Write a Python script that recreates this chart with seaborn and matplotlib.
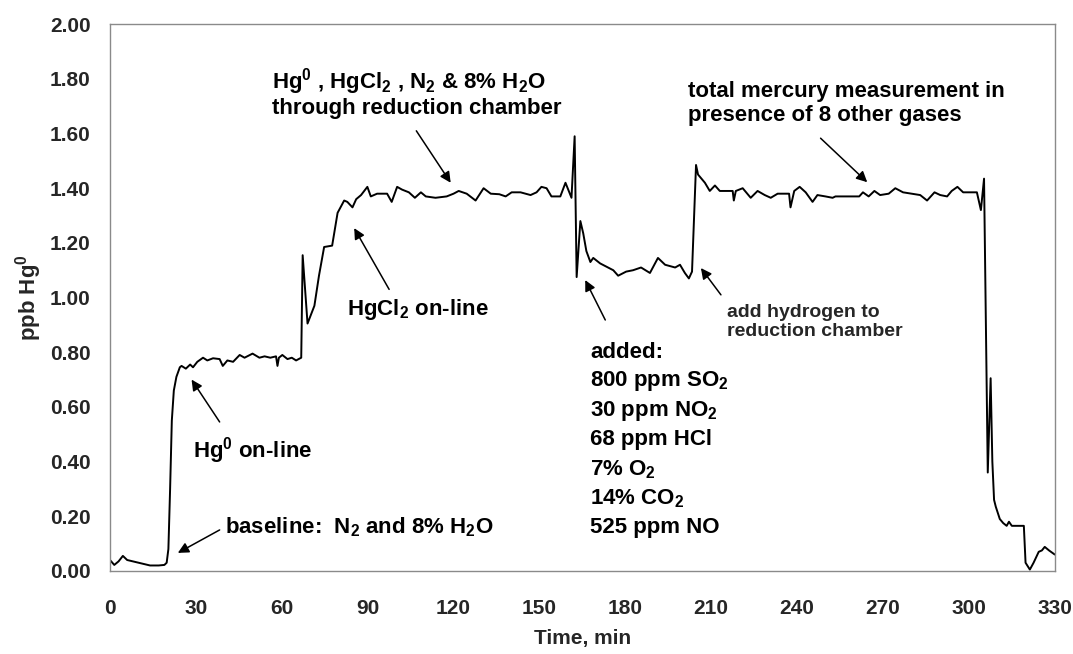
import matplotlib
matplotlib.use("Agg")
import matplotlib.pyplot as plt
import seaborn as sns
import pandas as pd

# Analyzer trace: elapsed time (min) and elemental mercury reading (ppb Hg0)
time_min = [
    0, 1.5, 3, 4.5, 6, 8, 10, 12, 14, 17,
    19, 19.8, 20.4, 21, 21.6, 22.3, 23.2, 24.4, 25, 26.5,
    28, 29, 30.5, 32.5, 34, 36, 38.3, 39.4, 41, 43,
    45.3, 47, 49.8, 52.2, 54, 56, 58, 58.5, 59, 60.2,
    62, 63.5, 65, 66.8, 67.3, 69, 71.4, 73, 74.8, 77.6,
    79.5, 81.8, 82.9, 84.7, 86, 87.7, 89.9, 91.1, 93.3, 96.8,
    98.4, 100.3, 102, 104.4, 106.5, 108.6, 110.3, 113.7, 117.6, 120,
    121.8, 124.6, 127.7, 130.5, 133, 136, 138.2, 140.3, 143.4, 146.9,
    149, 150.7, 152.5, 154.2, 157.3, 159.1, 161.2, 162.3, 163.0, 164.3,
    165.3, 166.4, 167.8, 168.8, 171.2, 174, 175.8, 177.5, 180.3, 182.7,
    185.5, 188.6, 191.4, 193.9, 197.4, 199.1, 200.8, 202.2, 203.3, 204.7,
    205.4, 207.8, 209.5, 211.3, 213, 217.5, 217.9, 218.6, 221, 223.8,
    226.2, 228.7, 230.8, 233.2, 237.2, 237.7, 239, 240.9, 243, 245.4,
    247.1, 249.9, 252.4, 253.4, 261.7, 263, 265, 267, 269, 272,
    274.3, 277, 280, 283, 285.4, 288, 290, 292.4, 294, 296,
    298, 302.8, 304.2, 305.3, 306.6, 307.6, 308.2, 308.8, 309.4, 310.8,
    312, 313.2, 314, 315, 319.2, 319.8, 321.3, 322.6, 324.4, 325.5,
    326.5, 328, 330,
]
ppb_hg0 = [
    0.040, 0.022, 0.035, 0.055, 0.040, 0.035, 0.030, 0.025, 0.020, 0.020,
    0.022, 0.030, 0.080, 0.300, 0.550, 0.660, 0.710, 0.745, 0.750, 0.740,
    0.755, 0.745, 0.765, 0.780, 0.770, 0.778, 0.775, 0.750, 0.770, 0.765,
    0.790, 0.780, 0.795, 0.780, 0.785, 0.780, 0.785, 0.750, 0.780, 0.790,
    0.775, 0.780, 0.770, 0.780, 1.155, 0.905, 0.970, 1.080, 1.185, 1.190,
    1.310, 1.355, 1.350, 1.330, 1.360, 1.375, 1.405, 1.370, 1.380, 1.380,
    1.350, 1.405, 1.395, 1.385, 1.365, 1.385, 1.370, 1.365, 1.370, 1.380,
    1.390, 1.380, 1.355, 1.400, 1.380, 1.378, 1.370, 1.385, 1.385, 1.375,
    1.385, 1.405, 1.400, 1.370, 1.370, 1.420, 1.365, 1.590, 1.075, 1.280,
    1.235, 1.170, 1.130, 1.145, 1.125, 1.110, 1.100, 1.080, 1.095, 1.100,
    1.110, 1.090, 1.145, 1.120, 1.110, 1.120, 1.090, 1.070, 1.095, 1.485,
    1.450, 1.420, 1.390, 1.410, 1.390, 1.390, 1.355, 1.390, 1.400, 1.365,
    1.390, 1.375, 1.365, 1.380, 1.380, 1.330, 1.390, 1.405, 1.385, 1.350,
    1.375, 1.370, 1.365, 1.370, 1.370, 1.385, 1.370, 1.390, 1.375, 1.380,
    1.400, 1.385, 1.380, 1.375, 1.355, 1.385, 1.375, 1.370, 1.390, 1.405,
    1.385, 1.385, 1.320, 1.435, 0.360, 0.705, 0.400, 0.260, 0.235, 0.190,
    0.175, 0.165, 0.180, 0.165, 0.165, 0.030, 0.005, 0.030, 0.070, 0.075,
    0.088, 0.075, 0.060,
]

x_ticks = list(range(0, 331, 30))
y_ticks = [0.0, 0.2, 0.4, 0.6, 0.8, 1.0, 1.2, 1.4, 1.6, 1.8, 2.0]

added_gases = [
    "added:",
    r"800 ppm SO$_2$",
    r"30 ppm NO$_2$",
    "68 ppm HCl",
    r"7% O$_2$",
    r"14% CO$_2$",
    "525 ppm NO",
]

sns.set_style("white")
plt.rcParams["font.family"] = ["Liberation Sans", "DejaVu Sans"]
plt.rcParams["font.weight"] = "bold"
plt.rcParams["mathtext.fontset"] = "custom"
plt.rcParams["mathtext.rm"] = "Liberation Sans:bold"
plt.rcParams["mathtext.it"] = "Liberation Sans:bold"
plt.rcParams["mathtext.bf"] = "Liberation Sans:bold"
plt.rcParams["mathtext.default"] = "rm"

fig = plt.figure(figsize=(10.73, 6.54), dpi=100)
ax = fig.add_axes([0.1025, 0.127, 0.8805, 0.836])

df = pd.DataFrame({"time": time_min, "ppb": ppb_hg0})
sns.lineplot(data=df, x="time", y="ppb", ax=ax, color="black", lw=1.4,
             sort=False, estimator=None)

ax.set_xlim(0, 330)
ax.set_ylim(0, 2.0)
ax.set_xticks(x_ticks)
ax.set_yticks(y_ticks)
ax.set_yticklabels([f"{v:.2f}" for v in y_ticks])
ax.tick_params(axis="both", direction="out", length=5, width=0.8,
               color="#9a9a9a", labelsize=15)
ax.tick_params(axis="x", pad=15)
ax.tick_params(axis="y", pad=9)
for lbl in ax.get_xticklabels() + ax.get_yticklabels():
    lbl.set_fontweight("bold")
for sp in ax.spines.values():
    sp.set_color("#8a8a8a")
    sp.set_linewidth(1.0)

ax.set_xlabel("Time, min", fontsize=15, fontweight="bold", labelpad=8)
ax.set_ylabel(r"ppb Hg$^0$", fontsize=16, fontweight="bold", labelpad=4)

arrow = dict(arrowstyle="-|>", color="black", lw=1.1, mutation_scale=16,
             shrinkA=0, shrinkB=0)
txt = dict(fontsize=16, fontweight="bold", color="black")

ax.text(56.5, 1.75, r"Hg$^0$ , HgCl$_2$ , N$_2$ & 8% H$_2$O" + "\nthrough reduction chamber",
        ha="left", va="center", linespacing=1.05, **txt)
ax.annotate("", xy=(119, 1.42), xytext=(107, 1.61), arrowprops=arrow)

ax.text(82.8, 0.955, r"HgCl$_2$ on-line", ha="left", va="center", **txt)
ax.annotate("", xy=(85.3, 1.254), xytext=(97.5, 1.03), arrowprops=arrow)

ax.text(28.9, 0.442, r"Hg$^0$ on-line", ha="left", va="center", **txt)
ax.annotate("", xy=(28.5, 0.70), xytext=(38.3, 0.545), arrowprops=arrow)

ax.text(40.0, 0.161, r"baseline:  N$_2$ and 8% H$_2$O", ha="left",
        va="center", **txt)
ax.annotate("", xy=(23.7, 0.066), xytext=(38.3, 0.15), arrowprops=arrow)

for i, line in enumerate(added_gases):
    ax.text(167.8, 0.80 - i * 0.107, line, ha="left", va="center", **txt)
ax.annotate("", xy=(166, 1.064), xytext=(173, 0.918), arrowprops=arrow)

ax.text(215.5, 0.912, "add hydrogen to\nreduction chamber", ha="left",
        va="center", fontsize=14, fontweight="bold", linespacing=1.15)
ax.annotate("", xy=(206.4, 1.108), xytext=(213.4, 1.01), arrowprops=arrow)

ax.text(201.9, 1.71, "total mercury measurement in\npresence of 8 other gases",
        ha="left", va="center", linespacing=1.15, **txt)
ax.annotate("", xy=(264.5, 1.422), xytext=(248.2, 1.583), arrowprops=arrow)

fig.savefig("out.png", dpi=100)
